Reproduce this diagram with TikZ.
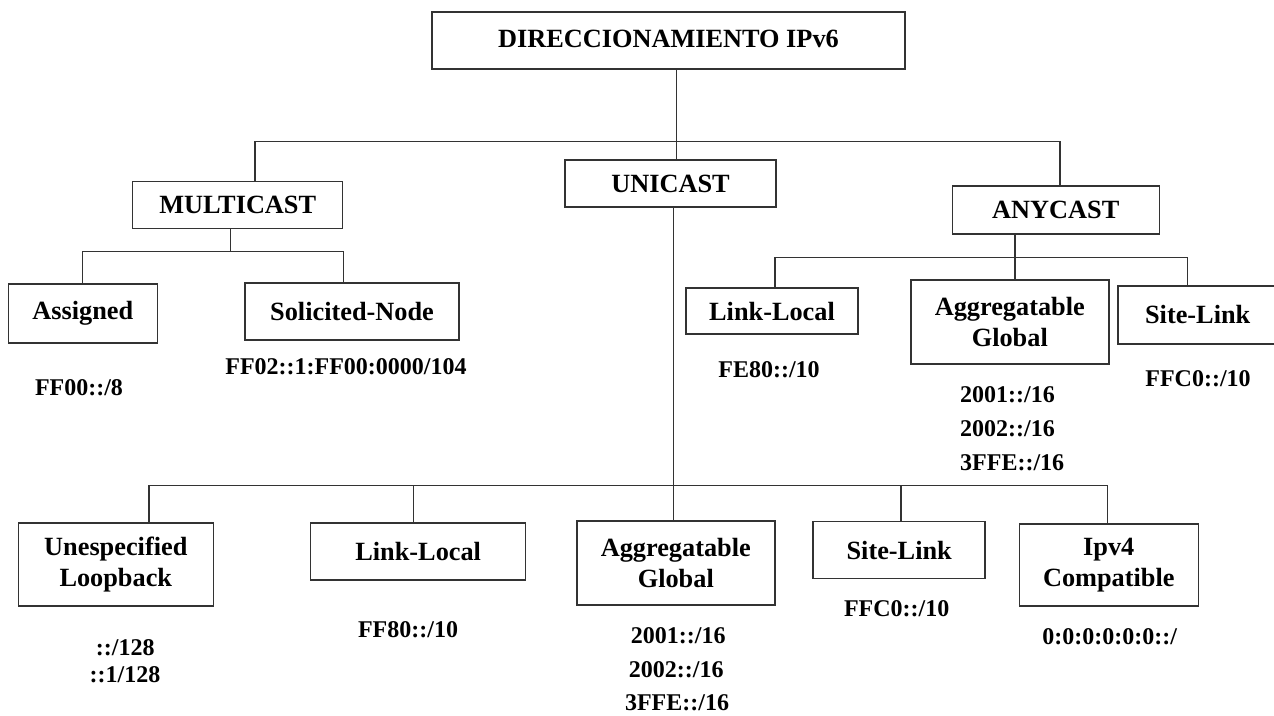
\documentclass[tikz,border=0pt]{standalone}
\usepackage{fontspec}
\setmainfont{Liberation Serif}
\newcommand\lblfont{\fontsize{26.3}{30.5}\selectfont\bfseries}
\newcommand\adrfont{\fontsize{24}{27}\selectfont\bfseries}
\tikzset{
  box/.style={draw=black!80, line width=1.5pt, inner sep=0pt, align=center, font=\lblfont},
  addr/.style={inner sep=0pt, font=\adrfont},
  link/.style={draw=black!80, line width=1.5pt}
}
\begin{document}
\begin{tikzpicture}[x=1pt,y=-1pt]
\useasboundingbox (0,0) rectangle (1274,715);

% --- boxes ---
\node[box, minimum width=473, minimum height=57, text depth=4pt] (title) at (668.5,40.5) {DIRECCIONAMIENTO IPv6};
\node[box, minimum width=210, minimum height=47] (multi) at (237.7,205) {MULTICAST};
\node[box, minimum width=211, minimum height=47] (uni) at (670.5,183.5) {UNICAST};
\node[box, minimum width=207, minimum height=48] (any) at (1055.8,210) {ANYCAST};

\node[box, minimum width=149, minimum height=59] (assigned) at (82.8,313.5) {Assigned};
\node[box, minimum width=214, minimum height=57] (solicited) at (352,311.7) {Solicited-Node};

\node[box, minimum width=172, minimum height=46] (linkA) at (772,311) {Link-Local};
\node[box, minimum width=198, minimum height=84] (aggA) at (1009.8,322) {Aggregatable\\Global};
\node[box, minimum width=159, minimum height=58] (siteA) at (1197.7,314.8) {Site-Link};

\node[box, minimum width=195, minimum height=83] (unspec) at (115.8,564.7) {Unespecified\\Loopback};
\node[box, minimum width=215, minimum height=57] (linkU) at (418.2,551.7) {Link-Local};
\node[box, minimum width=198, minimum height=84] (aggU) at (675.8,563) {Aggregatable\\Global};
\node[box, minimum width=172, minimum height=57] (siteU) at (899.2,550) {Site-Link};
\node[box, minimum width=179, minimum height=82] (ipv4) at (1108.8,565) {Ipv4\\Compatible};

% --- address prefixes ---
\node[addr] (aAssigned) at (79,388) {FF00::/8};
\node[addr] (aSolicited) at (346,366.7) {FF02::1:FF00:0000/104};
\node[addr] (aLinkA) at (769,370) {FE80::/10};
\node[addr, anchor=west] (aAggA1) at (960,394.5) {2001::/16};
\node[addr, anchor=west] (aAggA2) at (960,428.5) {2002::/16};
\node[addr, anchor=west] (aAggA3) at (960,463) {3FFE::/16};
\node[addr] (aSiteA) at (1198,379) {FFC0::/10};

\node[addr] (aUnspec1) at (125.3,648) {::/128};
\node[addr] (aUnspec2) at (125,674.3) {::1/128};
\node[addr] (aLinkU) at (408,630) {FF80::/10};
\node[addr] (aAggU1) at (678.3,635.5) {2001::/16};
\node[addr] (aAggU2) at (676.3,670) {2002::/16};
\node[addr] (aAggU3) at (677,702.5) {3FFE::/16};
\node[addr] (aSiteU) at (896.7,608.5) {FFC0::/10};
\node[addr] (aIpv4) at (1109.7,637) {0:0:0:0:0:0::/};

% --- junction points ---
\coordinate (jTop) at (676.7,141.7);
\coordinate (jTopL) at (255,141.7);
\coordinate (jTopR) at (1060,141.7);
\coordinate (jMulti) at (230.7,251.7);
\coordinate (jMultiL) at (82.7,251.7);
\coordinate (jMultiR) at (343.3,251.7);
\coordinate (jAny) at (1015,257.5);
\coordinate (jAnyL) at (775,257.5);
\coordinate (jAnyR) at (1187.7,257.5);
\coordinate (jUni) at (673.3,485.7);
\coordinate (jUni1) at (149,485.7);
\coordinate (jUni2) at (413.3,485.7);
\coordinate (jUni4) at (901,485.7);
\coordinate (jUni5) at (1107.3,485.7);

% --- connectors ---
\draw[link] (title.south -| jTop) -- (uni.north -| jTop);
\draw[link] (multi.north -| jTopL) -- (jTopL) -- (jTopR) -- (any.north -| jTopR);

\draw[link] (multi.south -| jMulti) -- (jMulti);
\draw[link] (assigned.north -| jMultiL) -- (jMultiL) -- (jMultiR) -- (solicited.north -| jMultiR);

\draw[link] (any.south -| jAny) -- (aggA.north -| jAny);
\draw[link] (linkA.north -| jAnyL) -- (jAnyL) -- (jAnyR) -- (siteA.north -| jAnyR);

\draw[link] (uni.south -| jUni) -- (aggU.north -| jUni);
\draw[link] (unspec.north -| jUni1) -- (jUni1) -- (jUni5) -- (ipv4.north -| jUni5);
\draw[link] (jUni2) -- (linkU.north -| jUni2);
\draw[link] (jUni4) -- (siteU.north -| jUni4);
\end{tikzpicture}
\end{document}
